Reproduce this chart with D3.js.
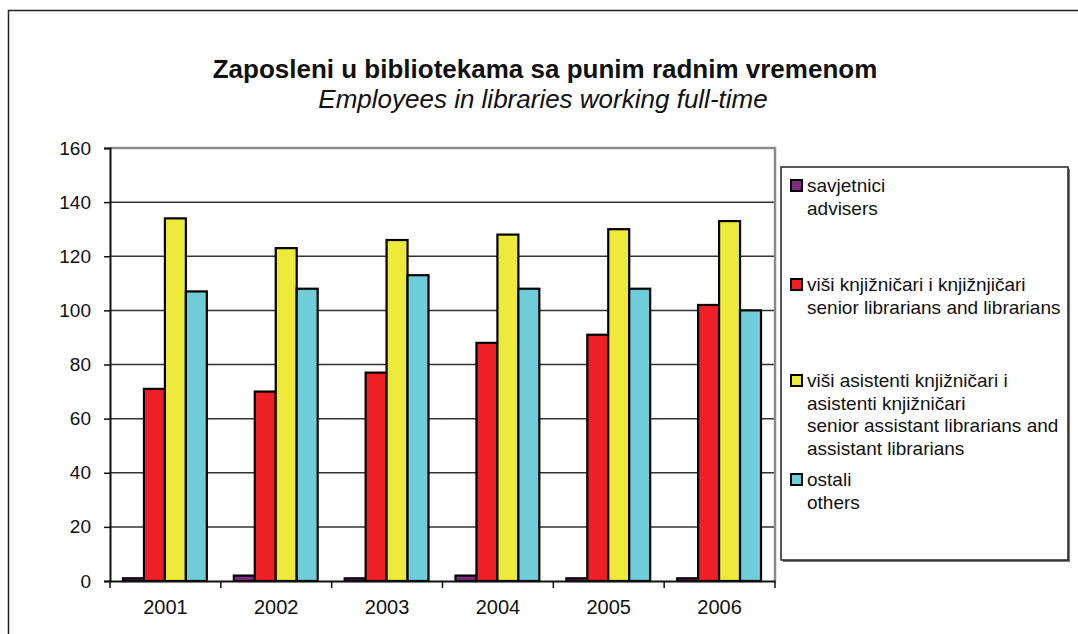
<!DOCTYPE html>
<html>
<head>
<meta charset="utf-8">
<script src="https://cdn.jsdelivr.net/npm/d3@7"></script>
<style>
  body { margin: 0; background: #fff; }
  text { font-family: "Liberation Sans", Arial, sans-serif; fill: #111; }
</style>
</head>
<body>
<div class="chart"></div>
<script>
// data
var years = ["2001", "2002", "2003", "2004", "2005", "2006"];
var seriesKeys = ["savjetnici", "visi", "asistenti", "ostali"];
var savjetnici = [1, 2, 1, 2, 1, 1];
var visi = [71, 70, 77, 88, 91, 102];
var asistenti = [134, 123, 126, 128, 130, 133];
var ostali = [107, 108, 113, 108, 108, 100];
var yTicks = [0, 20, 40, 60, 80, 100, 120, 140, 160];
var legendLabels = [
  ["savjetnici", "advisers"],
  ["viši knjižničari i knjižnjičari", "senior librarians and librarians"],
  ["viši asistenti knjižničari i", "asistenti knjižničari", "senior assistant librarians and", "assistant librarians"],
  ["ostali", "others"]
];
var colors = ["#7d2a80", "#ee2026", "#eeea3c", "#6fcdd9"];

var values = {savjetnici: savjetnici, visi: visi, asistenti: asistenti, ostali: ostali};

// graph
var W = 1078, H = 634,
    margin = {top: 148, left: 110},
    width = 665,
    height = 433;

var svg = d3.select(".chart").append("svg")
    .attr("width", W)
    .attr("height", H);

// outer frame
svg.append("path")
    .attr("d", "M8.5," + H + "V10.5H" + W)
    .attr("fill", "none")
    .attr("stroke", "#222")
    .attr("stroke-width", 1.5);

// titles
svg.append("text")
    .attr("x", 545).attr("y", 78)
    .attr("text-anchor", "middle")
    .style("font-size", "26px")
    .style("font-weight", "bold")
    .text("Zaposleni u bibliotekama sa punim radnim vremenom");

svg.append("text")
    .attr("x", 543).attr("y", 108)
    .attr("text-anchor", "middle")
    .style("font-size", "26px")
    .style("font-style", "italic")
    .text("Employees in libraries working full-time");

var g = svg.append("g")
    .attr("transform", "translate(" + margin.left + "," + margin.top + ")");

// scales
var y = d3.scaleLinear().domain([0, 160]).range([height, 0]);
var x0 = d3.scaleBand().domain(years).range([0, width]);
var x1 = d3.scaleBand().domain(seriesKeys).range([13, x0.bandwidth() - 14]);
var z = d3.scaleOrdinal().domain(seriesKeys).range(colors);

// gridlines
g.selectAll(".grid")
    .data(yTicks.filter(d => d > 0 && d < 160))
  .enter().append("line")
    .attr("class", "grid")
    .attr("x1", 0).attr("x2", width)
    .attr("y1", d => y(d)).attr("y2", d => y(d))
    .attr("stroke", "#333")
    .attr("stroke-width", 1.5);

// plot frame top/right (gray)
g.append("path")
    .attr("d", "M0," + y(160) + "H" + width + "V" + height)
    .attr("fill", "none")
    .attr("stroke", "#8a8a8a")
    .attr("stroke-width", 2.5);

// bars
var groups = g.selectAll(".year")
    .data(years)
  .enter().append("g")
    .attr("class", "year")
    .attr("transform", d => "translate(" + x0(d) + ",0)");

groups.selectAll("rect")
    .data((d, i) => seriesKeys.map(k => ({key: k, value: values[k][i]})))
  .enter().append("rect")
    .attr("x", d => x1(d.key))
    .attr("y", d => y(d.value))
    .attr("width", x1.bandwidth())
    .attr("height", d => height - y(d.value))
    .attr("fill", d => z(d.key))
    .attr("stroke", "#000")
    .attr("stroke-width", 2.2);

// y axis
var yAxis = g.append("g")
    .call(d3.axisLeft(y).tickValues(yTicks).tickSize(6).tickPadding(13));
yAxis.select(".domain").attr("stroke", "#111").attr("stroke-width", 2);
yAxis.selectAll(".tick line").attr("stroke", "#111").attr("stroke-width", 1.5);
yAxis.selectAll(".tick text")
    .style("font-size", "19px")
    .style("font-family", "'Liberation Sans', Arial, sans-serif")
    .attr("fill", "#111");

// x axis
var xAxis = g.append("g")
    .attr("transform", "translate(0," + height + ")")
    .call(d3.axisBottom(x0).tickSize(0).tickPadding(19));
xAxis.select(".domain").attr("stroke", "#111").attr("stroke-width", 2);
xAxis.selectAll(".tick text")
    .style("font-size", "20px")
    .style("font-family", "'Liberation Sans', Arial, sans-serif")
    .attr("fill", "#111");
xAxis.selectAll(".sep")
    .data(years.map(d => x0(d)).concat([width]))
  .enter().append("line")
    .attr("class", "sep")
    .attr("x1", d => d).attr("x2", d => d)
    .attr("y1", 0).attr("y2", 7)
    .attr("stroke", "#111")
    .attr("stroke-width", 1.5);

// legend
var legend = svg.append("g").attr("transform", "translate(781,167)");
legend.append("rect")
    .attr("x", 2).attr("y", 2)
    .attr("width", 287).attr("height", 393)
    .attr("fill", "#777");
legend.append("rect")
    .attr("width", 287).attr("height", 393)
    .attr("fill", "#fff")
    .attr("stroke", "#222")
    .attr("stroke-width", 1.5);

var entryY = [13, 112, 208, 307];
var item = legend.selectAll(".item")
    .data(seriesKeys)
  .enter().append("g")
    .attr("class", "item")
    .attr("transform", (d, i) => "translate(0," + entryY[i] + ")");

item.append("rect")
    .attr("x", 10).attr("y", 0)
    .attr("width", 11).attr("height", 11)
    .attr("fill", d => z(d))
    .attr("stroke", "#000")
    .attr("stroke-width", 2);

item.each(function(d, i) {
  var t = d3.select(this).append("text")
      .attr("x", 26).attr("y", 12)
      .style("font-size", "19px");
  legendLabels[i].forEach(function(line, j) {
    t.append("tspan")
        .attr("x", 26)
        .attr("dy", j === 0 ? 0 : 22.5)
        .text(line);
  });
});
</script>
</body>
</html>
